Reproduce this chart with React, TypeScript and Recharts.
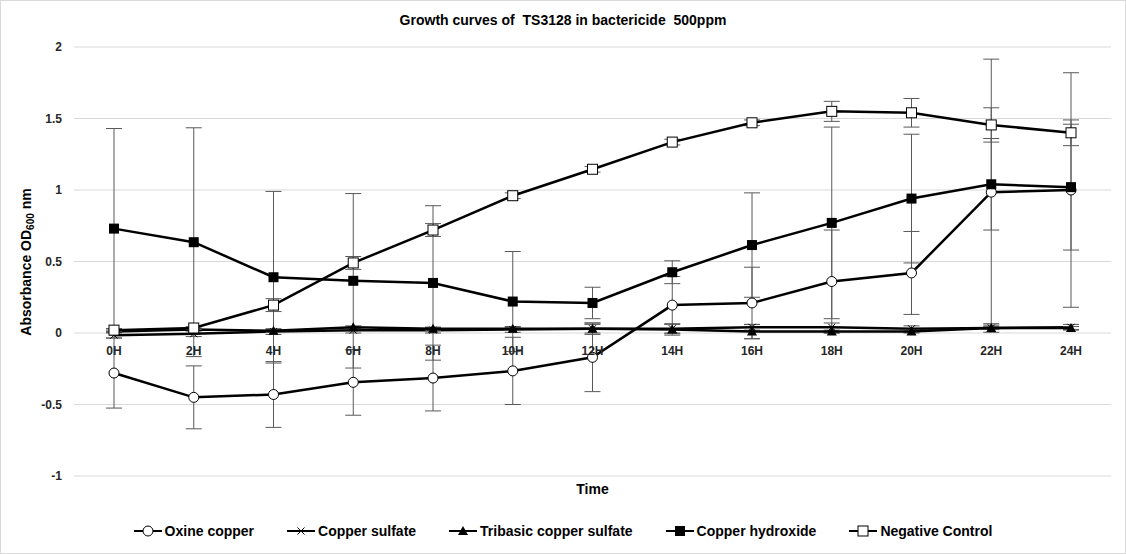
import React from "react"
import { LineChart, Line, XAxis, YAxis, CartesianGrid, ErrorBar, Label } from "recharts"

const hours = ["0H", "2H", "4H", "6H", "8H", "10H", "12H", "14H", "16H", "18H", "20H", "22H", "24H"]

const oxine = [-0.28, -0.45, -0.43, -0.345, -0.315, -0.265, -0.17, 0.195, 0.21, 0.36, 0.42, 0.985, 1.0]
const oxineErr = [0.245, 0.22, 0.23, 0.23, 0.23, 0.235, 0.24, 0.2, 0.25, 0.36, 0.29, 0.93, 0.82]

const sulfate = [-0.015, -0.005, 0.01, 0.02, 0.02, 0.025, 0.03, 0.03, 0.04, 0.04, 0.03, 0.035, 0.04]
const sulfateErr = [0.02, 0.02, 0.02, 0.02, 0.02, 0.02, 0.03, 0.03, 0.02, 0.03, 0.02, 0.03, 0.02]

const tribasic = [0.01, 0.025, 0.015, 0.04, 0.03, 0.03, 0.03, 0.025, 0.01, 0.01, 0.01, 0.035, 0.035]
const tribasicErr = [0.01, 0.01, 0.01, 0.01, 0.01, 0.01, 0.04, 0.04, 0.05, 0.01, 0.01, 0.01, 0.01]

const hydroxide = [0.73, 0.635, 0.39, 0.365, 0.35, 0.22, 0.21, 0.425, 0.615, 0.77, 0.94, 1.04, 1.02]
const hydroxideErr = [0.7, 0.8, 0.6, 0.61, 0.54, 0.35, 0.11, 0.08, 0.365, 0.67, 0.45, 0.32, 0.44]

const control = [0.02, 0.035, 0.195, 0.49, 0.72, 0.96, 1.145, 1.335, 1.47, 1.55, 1.54, 1.455, 1.4]
const controlErr = [0.01, 0.01, 0.045, 0.045, 0.045, 0.02, 0.02, 0.02, 0.02, 0.07, 0.1, 0.12, 0.09]

const yTicks = [-1, -0.5, 0, 0.5, 1, 1.5, 2]

const data = hours.map((h, i) => ({
  hour: h,
  oxine: oxine[i],
  oxineErr: oxineErr[i],
  sulfate: sulfate[i],
  sulfateErr: sulfateErr[i],
  tribasic: tribasic[i],
  tribasicErr: tribasicErr[i],
  hydroxide: hydroxide[i],
  hydroxideErr: hydroxideErr[i],
  control: control[i],
  controlErr: controlErr[i],
}))

const W = 1124
const H = 552
const M = { top: 46, right: 14, left: 0, bottom: 63 }
const X_AXIS_H = 14
const Y_MIN = -1
const Y_MAX = 2
const plotH = H - M.top - M.bottom - X_AXIS_H
const zeroY = M.top + ((Y_MAX - 0) / (Y_MAX - Y_MIN)) * plotH

const FONT = '"Liberation Sans", Arial, sans-serif'
const INK = "#000"
const ERR = "#595959"

type Shape = "circle" | "cross" | "triangle" | "square" | "openSquare"

function Marker({ cx, cy, shape }: { cx: number; cy: number; shape: Shape }) {
  if (cx == null || cy == null) return null
  if (shape === "circle") return <circle cx={cx} cy={cy} r={5} fill="#fff" stroke={INK} strokeWidth={1} />
  if (shape === "cross")
    return (
      <path d={`M${cx - 3.5},${cy - 3.5}L${cx + 3.5},${cy + 3.5}M${cx - 3.5},${cy + 3.5}L${cx + 3.5},${cy - 3.5}`} stroke={INK} strokeWidth={1} />
    )
  if (shape === "triangle") return <path d={`M${cx},${cy - 5}L${cx + 5},${cy + 4}L${cx - 5},${cy + 4}Z`} fill={INK} />
  if (shape === "square") return <rect x={cx - 5} y={cy - 5} width={10} height={10} fill={INK} />
  return <rect x={cx - 5} y={cy - 5} width={10} height={10} fill="#fff" stroke={INK} strokeWidth={1} />
}

const dotFor = (shape: Shape) => (p: any) => <Marker key={p.index} cx={p.cx} cy={p.cy} shape={shape} />

const series: { key: string; name: string; shape: Shape }[] = [
  { key: "oxine", name: "Oxine copper", shape: "circle" },
  { key: "sulfate", name: "Copper sulfate", shape: "cross" },
  { key: "tribasic", name: "Tribasic copper sulfate", shape: "triangle" },
  { key: "hydroxide", name: "Copper hydroxide", shape: "square" },
  { key: "control", name: "Negative Control", shape: "openSquare" },
]

// category labels sit just under the zero line, like the Excel original
function HourTick(props: any) {
  const { x, payload } = props
  return (
    <text x={x} y={zeroY + 22} textAnchor="middle" fontFamily={FONT} fontSize={12} fontWeight="bold" fill="#262626">
      {payload.value}
    </text>
  )
}

function YLabel() {
  const cx = 30
  const cy = 261
  return (
    <text transform={`translate(${cx},${cy}) rotate(-90)`} textAnchor="middle" fontFamily={FONT} fontSize={14} fontWeight="bold" fill={INK}>
      Absorbance OD
      <tspan fontSize={10} dy={3}>600</tspan>
      <tspan dy={-3}> nm</tspan>
    </text>
  )
}

function LegendIcon({ shape }: { shape: Shape }) {
  return (
    <svg width={28} height={14} style={{ display: "block" }}>
      <line x1={0} y1={7} x2={28} y2={7} stroke={INK} strokeWidth={2} />
      <Marker cx={14} cy={7} shape={shape} />
    </svg>
  )
}

export default function App() {
  return (
    <div
      style={{
        position: "relative",
        width: 1126,
        height: 554,
        boxSizing: "border-box",
        border: "1px solid #d9d9d9",
        background: "#fff",
        fontFamily: FONT,
      }}
    >
      <style>{`body{margin:0}`}</style>
      <div
        style={{
          position: "absolute",
          top: 11,
          left: 0,
          width: "100%",
          textAlign: "center",
          fontSize: 14,
          fontWeight: "bold",
          color: INK,
          whiteSpace: "pre",
        }}
      >
        {"Growth curves of  TS3128 in bactericide  500ppm"}
      </div>
      <LineChart width={W} height={H} data={data} margin={M}>
        <CartesianGrid vertical={false} stroke="#d9d9d9" />
        <XAxis
          dataKey="hour"
          height={X_AXIS_H}
          axisLine={false}
          tickLine={false}
          tick={<HourTick />}
          interval={0}
          padding={{ left: 40, right: 40 }}
        >
          <Label value="Time" position="bottom" offset={-6} style={{ fontFamily: FONT, fontSize: 14, fontWeight: "bold", fill: INK }} />
        </XAxis>
        <YAxis
          width={73}
          domain={[Y_MIN, Y_MAX]}
          ticks={yTicks}
          axisLine={false}
          tickLine={false}
          tickSize={0}
          tickMargin={12}
          tick={{ fontFamily: FONT, fontSize: 12, fontWeight: "bold", fill: "#262626" }}
        >
          <Label content={<YLabel />} />
        </YAxis>
        {series.map((s) => (
          <Line
            key={s.key}
            dataKey={s.key}
            name={s.name}
            stroke={INK}
            strokeWidth={2.5}
            dot={dotFor(s.shape)}
            activeDot={false}
            isAnimationActive={false}
          >
            <ErrorBar dataKey={s.key + "Err"} width={8} stroke={ERR} strokeWidth={1} direction="y" />
          </Line>
        ))}
      </LineChart>
      <div
        style={{
          position: "absolute",
          top: 522,
          left: 0,
          width: "100%",
          display: "flex",
          justifyContent: "center",
          gap: 33,
          fontSize: 14,
          fontWeight: "bold",
          color: INK,
        }}
      >
        {series.map((s) => (
          <div key={s.key} style={{ display: "flex", alignItems: "center", gap: 3 }}>
            <LegendIcon shape={s.shape} />
            <span>{s.name}</span>
          </div>
        ))}
      </div>
    </div>
  )
}
